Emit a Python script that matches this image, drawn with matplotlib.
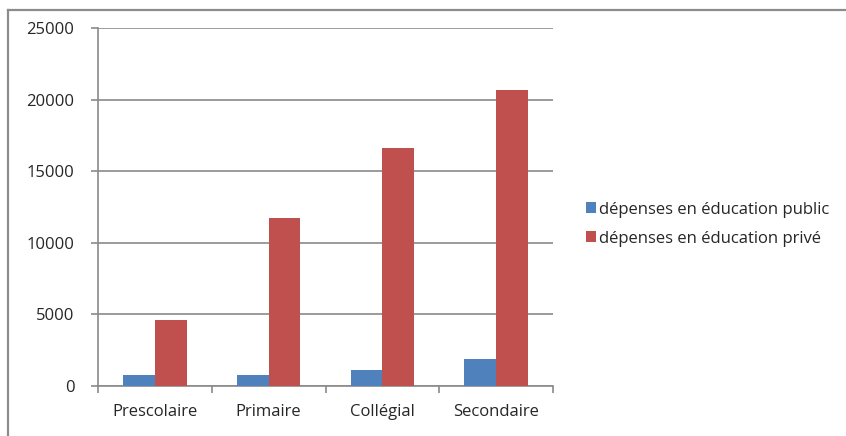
import matplotlib
matplotlib.use("Agg")
import matplotlib.pyplot as plt
from matplotlib.lines import Line2D
from matplotlib.patches import Patch
import numpy as np

categories = ["Prescolaire", "Primaire", "Collégial", "Secondaire"]
public = [750, 720, 1100, 1850]
prive = [4600, 11700, 16600, 20650]
series_labels = ["dépenses en éducation public", "dépenses en éducation privé"]
yticks = [0, 5000, 10000, 15000, 20000, 25000]

BLUE = "#4F81BD"
RED = "#C0504D"
GRID = "#8a8a8a"
TEXT = "#262626"

plt.rcParams["font.family"] = ["Open Sans", "DejaVu Sans"]

W, H = 846, 436
fig = plt.figure(figsize=(W / 100, H / 100), dpi=100)
ax = fig.add_axes([98 / W, 1 - 385.7 / H, (553 - 98) / W, (385.7 - 28) / H])

x = np.arange(len(categories))
bw = 0.28
ax.bar(x - bw / 2, public, bw, color=BLUE, zorder=3)
ax.bar(x + bw / 2, prive, bw, color=RED, zorder=3)

ax.set_xlim(-0.5, len(categories) - 0.5)
ax.set_ylim(0, 25000)
ax.set_yticks(yticks)
ax.set_yticklabels([str(v) for v in yticks], fontsize=12, color=TEXT)
ax.yaxis.grid(True, color=GRID, linewidth=1.2, zorder=0)
ax.set_axisbelow(True)

ax.set_xticks(x)
ax.set_xticklabels(categories, fontsize=12, color=TEXT)
ax.tick_params(axis="x", which="major", length=0, pad=13)
ax.set_xticks(np.arange(-0.5, len(categories), 1.0), minor=True)
ax.tick_params(axis="x", which="minor", length=5, color=GRID, width=1.2)
ax.tick_params(axis="y", length=5, color=GRID, width=1.2, pad=12)

for side in ("top", "right"):
    ax.spines[side].set_visible(False)
for side in ("left", "bottom"):
    ax.spines[side].set_color(GRID)
    ax.spines[side].set_linewidth(1.2)

handles = [Patch(facecolor=BLUE), Patch(facecolor=RED)]
fig.legend(handles, series_labels, loc="center left",
           bbox_to_anchor=(586 / W, 1 - 224 / H), frameon=False,
           borderpad=0, borderaxespad=0,
           fontsize=12, handlelength=0.6, handleheight=0.6,
           handletextpad=0.2, labelspacing=0.78, labelcolor=TEXT)

# chart frame
fig.add_artist(Line2D([8 / W, 1], [1 - 10 / H, 1 - 10 / H], color="#8c8c8c", lw=1.6))
fig.add_artist(Line2D([8 / W, 8 / W], [0, 1 - 10 / H], color="#8c8c8c", lw=1.6))

fig.savefig("out.png", dpi=100, facecolor="white")
